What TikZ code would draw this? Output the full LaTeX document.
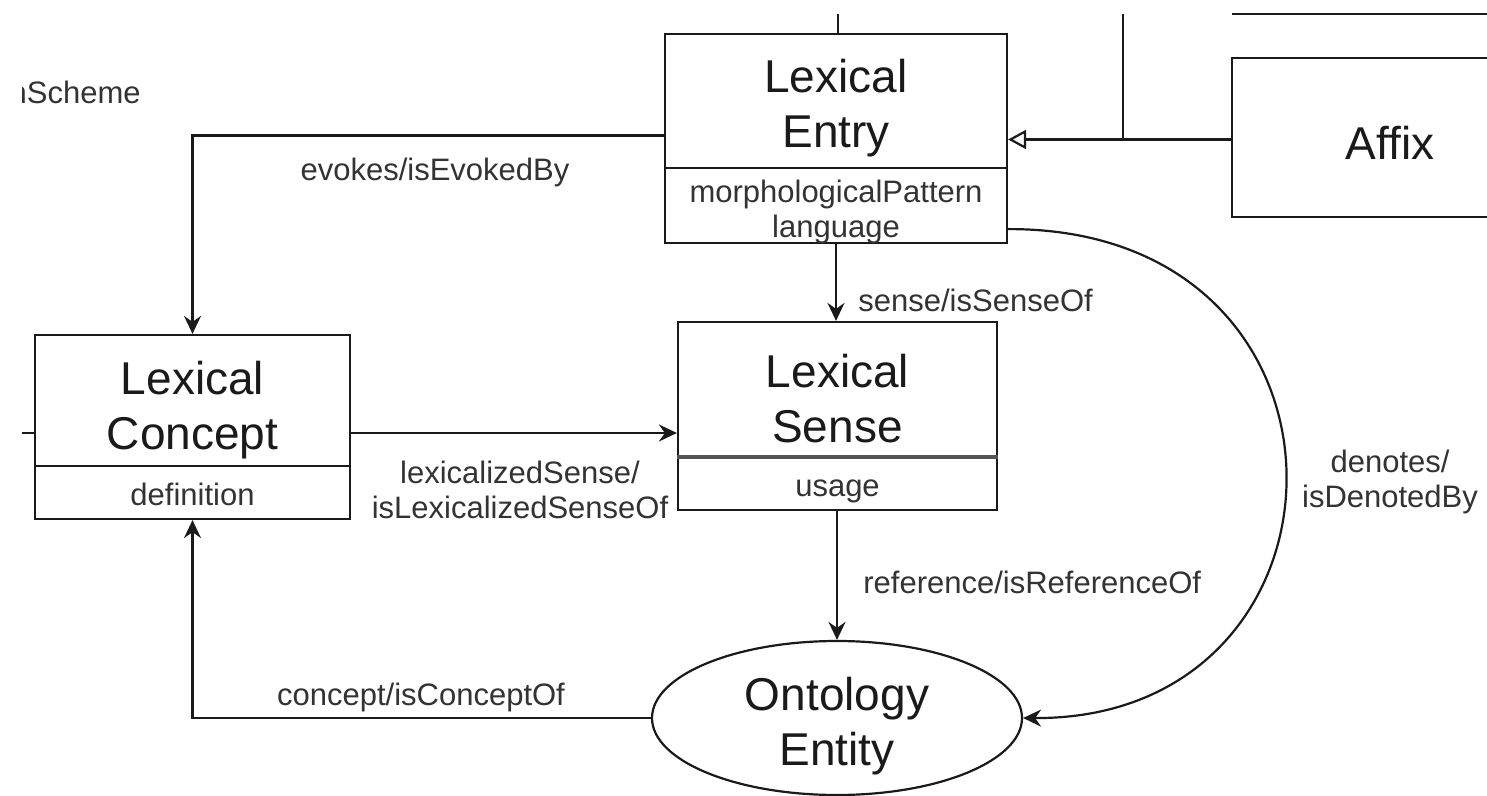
\documentclass[tikz,border=0pt]{standalone}
\usepackage{fontspec}
\setmainfont{Liberation Sans}
\usetikzlibrary{arrows.meta,shapes.geometric,calc}
\definecolor{ink}{HTML}{1A1A1A}
\definecolor{labelgray}{HTML}{333333}
\begin{document}
\begin{tikzpicture}[x=0.5pt,y=-0.5pt,
  line/.style={draw=ink,line width=1.1pt},
  arr/.style={line,-{Stealth[length=9pt,width=8.5pt,inset=3pt]}},
  gen/.style={line,-{Triangle[open,length=9pt,width=9.5pt,fill=white]}},
  classbox/.style={draw=ink,line width=1.1pt,rectangle,inner sep=0pt,fill=white},
  title/.style={font=\fontsize{23}{27.5}\selectfont,align=center,text=ink,inner sep=0pt},
  attr/.style={font=\fontsize{15.5}{17.5}\selectfont,align=center,text=labelgray,inner sep=0pt},
  lbl/.style={font=\fontsize{15.5}{17.5}\selectfont,align=center,text=labelgray,inner sep=0pt},
]
\useasboundingbox[fill=white] (0,0) rectangle (1487,796);

% class boxes
\node[classbox,minimum width=171pt,minimum height=104.5pt] (entry) at (836,138.5) {};
\node[classbox,minimum width=157.5pt,minimum height=92pt] (concept) at (192.5,427) {};
\node[classbox,minimum width=159.5pt,minimum height=94pt] (sense) at (837.5,416) {};
\node[classbox,minimum width=158pt,minimum height=79.5pt] (affix) at (1390,137.5) {};
\node[draw=ink,line width=1.1pt,ellipse,minimum width=185pt,minimum height=77pt,inner sep=0pt,fill=white] (onto) at (837,718) {};

% compartment dividers
\draw[line] (entry.west |- 0,168) -- (entry.east |- 0,168);
\draw[line] (concept.west |- 0,466) -- (concept.east |- 0,466);
\draw[draw=ink!75,line width=1.6pt] (sense.west |- 0,457) -- (sense.east |- 0,457);

% class names and attributes
\node[title] (entryT) at (836,108.5) {Lexical\\Entry};
\node[attr] (entryA) at (836,212) {morphologicalPattern\\language};
\node[title] (conceptT) at (192.5,410) {Lexical\\Concept};
\node[attr] (conceptA) at (192.5,494) {definition};
\node[title] (senseT) at (837.5,399) {Lexical\\Sense};
\node[attr] (senseA) at (837.5,491) {usage};
\node[title] (affixT) at (1390,143) {Affix};
\node[title] (ontoT) at (837,726) {Ontology\\Entity};

% partly visible scheme name at the left border
\begin{scope}
  \clip (22,40) rectangle (300,140);
  \node[lbl,anchor=base east] (scheme) at (141,104) {nScheme};
\end{scope}

% free ends of lines leaving the drawing area
\coordinate (topE) at (838,14);
\coordinate (topJ) at (1123,14);
\coordinate (topR1) at (1232,14);
\coordinate (topR2) at (1487,14);
\coordinate (stubL) at (22,433);

% connectors
\draw[line] (entry.north -| topE) -- (topE);
\draw[line] (topR1) -- (topR2);
\draw[gen] ([yshift=-1pt]affix.west) -- ([yshift=-1pt]affix.west -| entry.east);
\coordinate (join) at ([yshift=-1pt]affix.west -| topJ);
\draw[line] (topJ) -- (join);
\draw[arr] ([yshift=1.5pt]entry.west) -| (concept.north);
\draw[line] (stubL) -- (stubL -| concept.west);
\draw[arr] (concept.east |- stubL) -- (sense.west |- stubL);
\draw[arr] (entry.south) -- (entry.south |- sense.north);
\draw[arr] (sense.south -| onto.north) -- (onto.north);
\draw[arr] (onto.west) -| (concept.south);
\draw[arr] ([yshift=7.5pt]entry.south east) .. controls (1380,228) and (1370,720) .. (onto.east);

% connector labels
\node[lbl] (lEvokes) at (435,172) {evokes/isEvokedBy};
\node[lbl,anchor=west] (lSense) at (858,300) {sense/isSenseOf};
\node[lbl] (lLex) at (520,490) {lexicalizedSense/\\isLexicalizedSenseOf};
\node[lbl,anchor=west] (lRef) at (863,582) {reference/isReferenceOf};
\node[lbl] (lDen) at (1390,482) {denotes/\\isDenotedBy};
\node[lbl] (lConc) at (421,697) {concept/isConceptOf};
\end{tikzpicture}
\end{document}
